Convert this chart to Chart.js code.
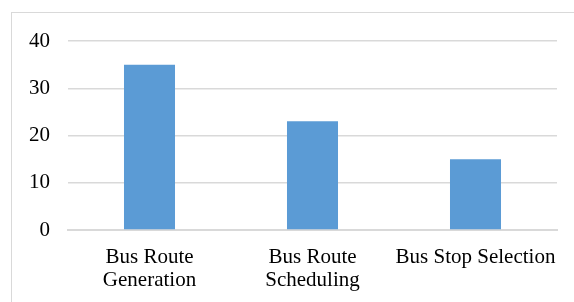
<!DOCTYPE html>
<html>
<head>
<meta charset="utf-8">
<script src="https://cdn.jsdelivr.net/npm/chart.js@4.4.0/dist/chart.umd.min.js"></script>
<style>
  html, body { margin: 0; padding: 0; background: #fff; }
  #frame { position: absolute; left: 11px; top: 12px; width: 620px; height: 330px; border: 1px solid #d9d9d9; }
  #wrap { position: absolute; left: 0; top: 0; width: 574px; height: 302px; }
</style>
</head>
<body>
<div id="frame"></div>
<div id="wrap"><canvas id="myChart" width="574" height="302"></canvas></div>
<script>
// Datos del gráfico
const categories = [['Bus Route', 'Generation'], ['Bus Route', 'Scheduling'], 'Bus Stop Selection'];
const values = [35, 23, 15];
const yTicks = [0, 10, 20, 30, 40];

const ctx = document.getElementById('myChart').getContext('2d');
const myChart = new Chart(ctx, {
    type: 'bar',
    data: {
        labels: categories,
        datasets: [{
            data: values,
            backgroundColor: '#5b9bd5',
            categoryPercentage: 1,
            barPercentage: 0.313
        }]
    },
    options: {
        responsive: false,
        animation: false,
        layout: {
            padding: { left: 0, right: 17, top: 41, bottom: 0 }
        },
        plugins: {
            legend: { display: false },
            tooltip: { enabled: false }
        },
        scales: {
            x: {
                afterFit: (axis) => { axis.height = 72; },
                grid: { display: false },
                border: { color: '#d9d9d9', width: 2 },
                ticks: {
                    color: '#000',
                    maxRotation: 0,
                    autoSkip: false,
                    padding: 8,
                    font: { family: 'Liberation Serif', size: 21, lineHeight: 1.1 }
                }
            },
            y: {
                min: 0,
                max: 40,
                afterFit: (axis) => { axis.width = 68; },
                afterBuildTicks: (axis) => { axis.ticks = yTicks.map(v => ({ value: v })); },
                grid: { color: '#d9d9d9', lineWidth: 1.5, drawTicks: false },
                border: { display: false },
                ticks: {
                    color: '#000',
                    padding: 18,
                    font: { family: 'Liberation Serif', size: 21 }
                }
            }
        }
    }
});
</script>
</body>
</html>
